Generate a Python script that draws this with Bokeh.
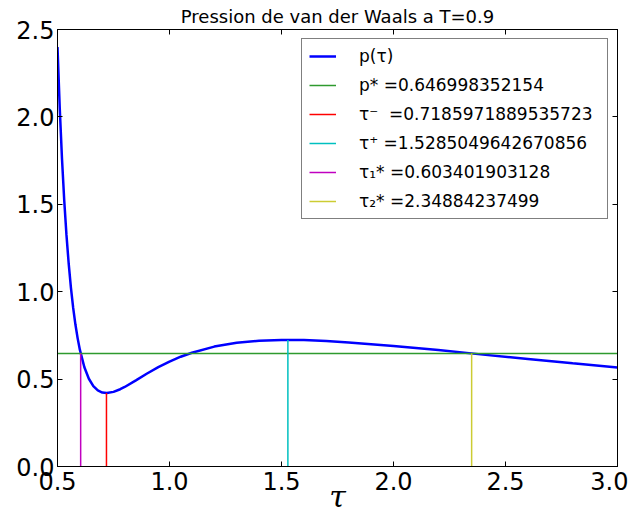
from bokeh.plotting import figure
from bokeh.models import (LinearAxis, FixedTicker, Legend, LegendItem, Range1d,
                          CustomJSTickFormatter)
from bokeh.embed import file_html
from bokeh.resources import INLINE

# ---- data ----
tau = [0.50, 0.51, 0.52, 0.53, 0.54, 0.55, 0.56, 0.57, 0.58, 0.59, 0.60, 0.62,
       0.64, 0.66, 0.68, 0.70, 0.72, 0.75, 0.78, 0.80, 0.85, 0.90, 0.95, 1.00,
       1.05, 1.10, 1.20, 1.30, 1.40, 1.50, 1.60, 1.70, 1.80, 2.00, 2.20, 2.40,
       2.60, 2.80, 3.00]
p_tau = [2.400, 2.051, 1.762, 1.523, 1.325, 1.160, 1.022, 0.907, 0.812, 0.733,
         0.667, 0.568, 0.502, 0.460, 0.435, 0.423, 0.420, 0.427, 0.442, 0.455,
         0.493, 0.532, 0.568, 0.600, 0.628, 0.651, 0.686, 0.708, 0.719, 0.724,
         0.723, 0.718, 0.710, 0.690, 0.666, 0.640, 0.615, 0.590, 0.567]

p_star = 0.646998352154
tau_minus = 0.7185971889535723
tau_plus = 1.5285049642670856
tau1_star = 0.603401903128
tau2_star = 2.34884237499
p_at_tau_minus = 0.420
p_at_tau_plus = 0.724

x_min, x_max = 0.5, 3.0
y_min, y_max = 0.0, 2.5
x_ticks = [0.5, 1.0, 1.5, 2.0, 2.5, 3.0]
x_tick_labels = ["0.5", "1.0", "1.5", "2.0", "2.5", "3.0"]
y_ticks = [0.0, 0.5, 1.0, 1.5, 2.0, 2.5]
y_tick_labels = ["0.0", "0.5", "1.0", "1.5", "2.0", "2.5"]

title_text = "Pression de van der Waals a T=0.9"
x_label_text = "τ"
legend_labels = ["p(τ)", "p* =0.646998352154", "τ⁻  =0.7185971889535723",
                 "τ⁺ =1.5285049642670856", "τ₁* =0.603401903128",
                 "τ₂* =2.34884237499"]

# ---- figure ----
p = figure(width=628, height=522, x_range=Range1d(x_min, x_max),
           y_range=Range1d(y_min, y_max), output_backend="svg",
           toolbar_location=None, min_border_left=57, min_border_right=11,
           min_border_top=29, min_border_bottom=56)
p.background_fill_color = "white"
p.border_fill_color = "white"
p.outline_line_color = "black"
p.outline_line_width = 1
p.xgrid.visible = False
p.ygrid.visible = False

p.title.text = title_text
p.title.align = "center"
p.title.text_font = "DejaVu Sans"
p.title.text_font_size = "18px"
p.title.text_font_style = "normal"
p.title.text_color = "black"
p.title.standoff = 5

def style_axis(ax, ticks, labels, show_labels):
    ax.ticker = FixedTicker(ticks=ticks)
    ax.major_tick_in = 5
    ax.major_tick_out = 0
    ax.minor_tick_in = 0
    ax.minor_tick_out = 0
    ax.axis_line_color = "black"
    ax.major_tick_line_color = "black"
    ax.major_label_text_font = "DejaVu Sans"
    ax.major_label_text_color = "black"
    ax.major_label_text_font_size = "24px"
    if show_labels:
        ax.major_label_overrides = {t: l for t, l in zip(ticks, labels)}
    else:
        ax.formatter = CustomJSTickFormatter(code="return ''")
        ax.major_label_standoff = 0

style_axis(p.xaxis[0], x_ticks, x_tick_labels, True)
style_axis(p.yaxis[0], y_ticks, y_tick_labels, True)
p.xaxis[0].major_label_standoff = 5
p.yaxis[0].major_label_standoff = 3

xa = p.xaxis[0]
xa.axis_label = x_label_text
xa.axis_label_text_font = "DejaVu Serif"
xa.axis_label_text_font_style = "italic"
xa.axis_label_text_font_size = "30px"
xa.axis_label_text_color = "black"
xa.axis_label_standoff = -14

top_axis = LinearAxis()
style_axis(top_axis, x_ticks, x_tick_labels, False)
p.add_layout(top_axis, "above")
right_axis = LinearAxis()
style_axis(right_axis, y_ticks, y_tick_labels, False)
p.add_layout(right_axis, "right")

# ---- glyphs ----
r_curve = p.line(tau, p_tau, line_color="#0000ff", line_width=2.5)
r_pstar = p.line([x_min, x_max], [p_star, p_star], line_color="#2e9a2e", line_width=1.5)
r_tm = p.segment(x0=[tau_minus], y0=[y_min], x1=[tau_minus], y1=[p_at_tau_minus],
                 line_color="#ff0000", line_width=1.5)
r_tp = p.segment(x0=[tau_plus], y0=[y_min], x1=[tau_plus], y1=[p_at_tau_plus],
                 line_color="#00c0c0", line_width=1.5)
r_t1 = p.segment(x0=[tau1_star], y0=[y_min], x1=[tau1_star], y1=[p_star],
                 line_color="#c000c0", line_width=1.5)
r_t2 = p.segment(x0=[tau2_star], y0=[y_min], x1=[tau2_star], y1=[p_star],
                 line_color="#cccc33", line_width=1.5)

renderers = [r_curve, r_pstar, r_tm, r_tp, r_t1, r_t2]
items = [LegendItem(label=l, renderers=[r]) for l, r in zip(legend_labels, renderers)]
legend = Legend(items=items, location="top_right", margin=9, padding=7, spacing=9,
                glyph_width=27, glyph_height=20, label_height=20, label_width=241,
                label_standoff=23, label_text_font="DejaVu Sans",
                label_text_font_size="17px", label_text_color="black",
                border_line_color="black", border_line_width=1,
                background_fill_color="white", background_fill_alpha=1.0)
p.add_layout(legend)

open("out.html", "w").write(file_html(p, INLINE))
